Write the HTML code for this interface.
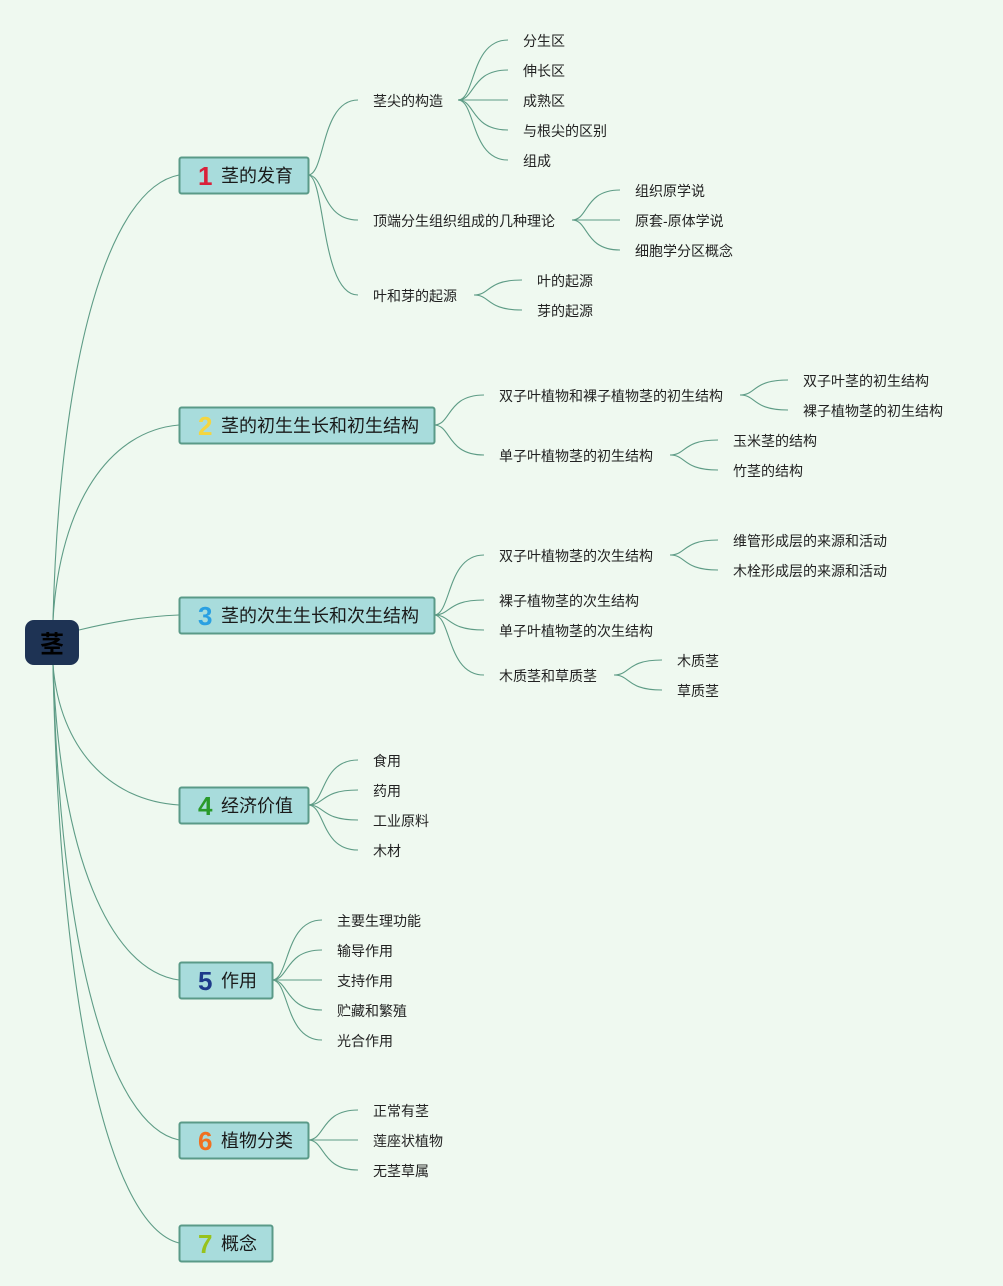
<!DOCTYPE html>
<html><head><meta charset="utf-8"><style>
html,body{margin:0;padding:0;background:#eff9f0;}
svg text{font-family:"Liberation Sans","Noto Sans CJK SC",sans-serif;}
</style></head><body>
<svg id="s" width="1003" height="1286" xmlns="http://www.w3.org/2000/svg" style="display:block">
<rect width="1003" height="1286" fill="#eff9f0"/>
<g id="lines" fill="none" stroke="#5e9c86" stroke-width="1.1"></g>
<g id="nodes"></g>
</svg>
<script>
var L=document.getElementById('lines'),N=document.getElementById('nodes');
var ns='http://www.w3.org/2000/svg';
function path(d,w){var p=document.createElementNS(ns,'path');p.setAttribute('d',d);if(w)p.setAttribute('stroke-width',w);L.appendChild(p);}
function txt(x,y,s,size,fill,weight){var t=document.createElementNS(ns,'text');t.setAttribute('x',x);t.setAttribute('y',y+1);t.setAttribute('font-size',size);t.setAttribute('fill',fill||'#222');t.setAttribute('dominant-baseline','central');if(weight)t.setAttribute('font-weight',weight);t.textContent=s;N.appendChild(t);}
function branch(x0,y0,x1,y1){var dx=x1-x0;path('M'+x0+' '+y0+' C'+(x0+dx*0.35)+' '+y0+' '+(x0+dx*0.25)+' '+y1+' '+(x1)+' '+y1);}
function group(hx,hy,tx,list){list.forEach(function(c){branch(hx,hy,tx-15,c[1]);txt(tx,c[1],c[0],14);});}
function rootLine(y0,y1){var x0=53,x1=179;path('M'+x0+' '+y0+' C'+(x0+7)+' '+(y0+(y1-y0)*0.6)+' '+(x0+(x1-x0)*0.45)+' '+(y1+(y0-y1)*0.03)+' '+x1+' '+y1);}
rootLine(620,175);rootLine(620,425);
path('M79 630 C120 620 150 616 179 615');
rootLine(665,805);rootLine(665,980);rootLine(665,1140);rootLine(665,1243);
var r=document.createElementNS(ns,'rect');r.setAttribute('x',25);r.setAttribute('y',620);r.setAttribute('width',54);r.setAttribute('height',45);r.setAttribute('rx',9);r.setAttribute('fill','#1e3354');N.appendChild(r);
var t=document.createElementNS(ns,'text');t.setAttribute('x',52);t.setAttribute('y',645);t.setAttribute('text-anchor','middle');t.setAttribute('dominant-baseline','central');t.setAttribute('font-size',24);t.setAttribute('font-weight','bold');t.setAttribute('fill','#000');t.textContent='茎';N.appendChild(t);
function main(x,y,w,num,col,label){var r=document.createElementNS(ns,'rect');r.setAttribute('x',x+0.5);r.setAttribute('y',y+0.5);r.setAttribute('width',w);r.setAttribute('height',36);r.setAttribute('rx',2);r.setAttribute('fill','#a8dcdc');r.setAttribute('stroke','#5a9a88');r.setAttribute('stroke-width',2);N.appendChild(r);
txt(x+19,y+18,num,26,col,'bold');txt(x+42,y+18,label,18,'#1a1a1a');}
main(179,157,129,'1','#d9213a','茎的发育');
main(179,407,255,'2','#f4d640','茎的初生生长和初生结构');
main(179,597,255,'3','#2aa0e2','茎的次生生长和次生结构');
main(179,787,129,'4','#2a9a2a','经济价值');
main(179,962,93,'5','#1d3a8a','作用');
main(179,1122,129,'6','#f07020','植物分类');
main(179,1225,93,'7','#98c21c','概念');
group(308,175,373,[['茎尖的构造',100],['顶端分生组织组成的几种理论',220],['叶和芽的起源',295]]);
group(458,100,523,[['分生区',40],['伸长区',70],['成熟区',100],['与根尖的区别',130],['组成',160]]);
group(572,220,635,[['组织原学说',190],['原套-原体学说',220],['细胞学分区概念',250]]);
group(474,295,537,[['叶的起源',280],['芽的起源',310]]);
group(434,425,499,[['双子叶植物和裸子植物茎的初生结构',395],['单子叶植物茎的初生结构',455]]);
group(740,395,803,[['双子叶茎的初生结构',380],['裸子植物茎的初生结构',410]]);
group(670,455,733,[['玉米茎的结构',440],['竹茎的结构',470]]);
group(434,615,499,[['双子叶植物茎的次生结构',555],['裸子植物茎的次生结构',600],['单子叶植物茎的次生结构',630],['木质茎和草质茎',675]]);
group(670,555,733,[['维管形成层的来源和活动',540],['木栓形成层的来源和活动',570]]);
group(614,675,677,[['木质茎',660],['草质茎',690]]);
group(308,805,373,[['食用',760],['药用',790],['工业原料',820],['木材',850]]);
group(272,980,337,[['主要生理功能',920],['输导作用',950],['支持作用',980],['贮藏和繁殖',1010],['光合作用',1040]]);
group(308,1140,373,[['正常有茎',1110],['莲座状植物',1140],['无茎草属',1170]]);
</script>
</body></html>
